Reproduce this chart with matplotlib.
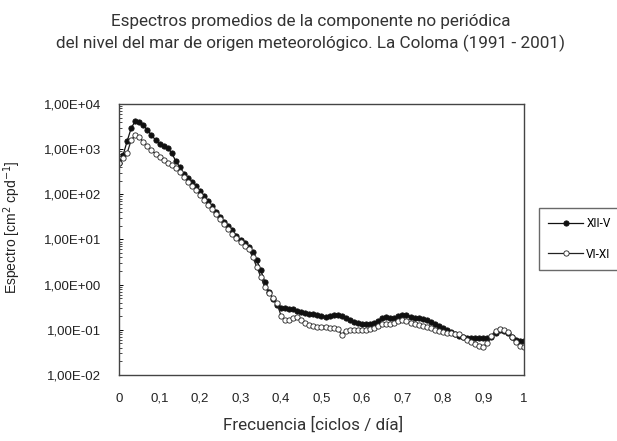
import matplotlib
matplotlib.use("Agg")
import matplotlib.pyplot as plt
from matplotlib.ticker import FuncFormatter, LogLocator, NullFormatter

# frecuencia en ciclos por dia, paso 0.01
frecuencia = [round(i * 0.01, 2) for i in range(101)]

# espectro promedio diciembre-mayo
xii_v = [
    495, 745, 1520, 2945, 4210, 4000, 3430, 2660, 2060, 1600,
    1300, 1180, 1060, 825, 548, 404, 282, 231, 188, 153,
    119, 92, 71, 55, 41, 31.6, 24.5, 20, 16.3, 12,
    9.8, 8.4, 6.9, 5.3, 3.5, 2.1, 1.15, 0.69, 0.49, 0.36,
    0.31, 0.31, 0.29, 0.29, 0.263, 0.25, 0.238, 0.226, 0.226, 0.215,
    0.204, 0.194, 0.204, 0.215, 0.215, 0.204, 0.184, 0.166, 0.150, 0.143,
    0.136, 0.136, 0.136, 0.143, 0.158, 0.184, 0.194, 0.184, 0.184, 0.204,
    0.215, 0.215, 0.194, 0.184, 0.184, 0.175, 0.166, 0.150, 0.136, 0.123,
    0.111, 0.100, 0.090, 0.082, 0.074, 0.070, 0.0665, 0.0665, 0.0665, 0.0665,
    0.0665, 0.0665, 0.070, 0.086, 0.100, 0.095, 0.086, 0.070, 0.060, 0.057,
    0.057,
]

# espectro promedio junio-noviembre
vi_xi = [
    495, 638, 825, 1600, 2060, 1860, 1440, 1180, 960, 783,
    672, 577, 495, 447, 384, 313, 243, 188, 153, 125,
    97, 75, 58, 47.5, 36.8, 28.6, 22.1, 17.2, 13.3, 10.8,
    8.85, 7.2, 6.2, 4.1, 2.48, 1.49, 0.89, 0.66, 0.51, 0.395,
    0.204, 0.166, 0.166, 0.184, 0.194, 0.166, 0.143, 0.129, 0.123, 0.116,
    0.116, 0.116, 0.111, 0.111, 0.105, 0.077, 0.095, 0.100, 0.100, 0.100,
    0.100, 0.100, 0.105, 0.111, 0.123, 0.136, 0.136, 0.136, 0.143, 0.158,
    0.166, 0.158, 0.143, 0.136, 0.129, 0.123, 0.116, 0.111, 0.100, 0.095,
    0.090, 0.086, 0.086, 0.082, 0.082, 0.070, 0.060, 0.054, 0.049, 0.044,
    0.042, 0.0515, 0.074, 0.095, 0.105, 0.100, 0.090, 0.070, 0.054, 0.044,
    0.042,
]

x_ticks = [0, 0.1, 0.2, 0.3, 0.4, 0.5, 0.6, 0.7, 0.8, 0.9, 1.0]
titulo = ("Espectros promedios de la componente no periódica\n"
          "del nivel del mar de origen meteorológico. La Coloma (1991 - 2001)")

plt.rcParams['font.family'] = ['Liberation Sans', 'DejaVu Sans']
cond = ['Roboto', 'DejaVu Sans']

fig = plt.figure(figsize=(6.17, 4.41), dpi=100)
ax = fig.add_axes([0.193, 0.150, 0.656, 0.614])

ax.plot(frecuencia, xii_v, color='#111111', lw=0.9, marker='o', ms=3.8,
        mfc='#111111', mec='#111111', mew=0.6, label='XII-V')
ax.plot(frecuencia, vi_xi, color='#222222', lw=0.9, marker='o', ms=3.8,
        mfc='white', mec='#222222', mew=0.6, label='VI-XI')

ax.set_yscale('log')
ax.set_ylim(1e-2, 1e4)
ax.set_xlim(0, 1)
ax.set_xticks(x_ticks)
ax.xaxis.set_major_formatter(FuncFormatter(
    lambda v, p: '0' if v == 0 else ('1' if v == 1 else f'{v:.1f}'.replace('.', ','))))
ax.yaxis.set_major_locator(LogLocator(base=10, numticks=10))
ax.yaxis.set_minor_locator(LogLocator(base=10, subs=range(2, 10), numticks=20))
ax.yaxis.set_major_formatter(FuncFormatter(lambda v, p: f'{v:.2E}'.replace('.', ',')))
ax.yaxis.set_minor_formatter(NullFormatter())
ax.tick_params(axis='x', length=0, pad=13, labelsize=9.5, labelcolor='#222222')
ax.tick_params(axis='y', which='major', direction='in', length=3, width=0.7,
               labelsize=9.5, pad=13, labelcolor='#222222')
ax.tick_params(axis='y', which='minor', direction='in', length=2, width=0.5)
for s in ax.spines.values():
    s.set_color('#444444')
    s.set_linewidth(1.0)

ax.set_ylabel('Espectro [cm$^2$ cpd$^{-1}$]', fontsize=10, color='#222222')
ax.yaxis.set_label_coords(-0.238, 0.546)

fig.text(0.503, 0.968, titulo, ha='center', va='top', fontsize=12.3,
         family=cond, color='#333333', linespacing=1.45)
fig.text(0.507, 0.036, 'Frecuencia [ciclos / día]', ha='center', va='center',
         fontsize=12.3, family=cond, color='#333333')

fig.legend(loc='upper left', bbox_to_anchor=(539 / 617, 1 - 208 / 441),
           frameon=True, fancybox=False, edgecolor='#444444',
           prop={'family': cond, 'size': 8.5}, handlelength=2.9,
           labelspacing=1.45, borderpad=0.8, handletextpad=0.3,
           borderaxespad=0)

fig.savefig('out.png', dpi=100)
